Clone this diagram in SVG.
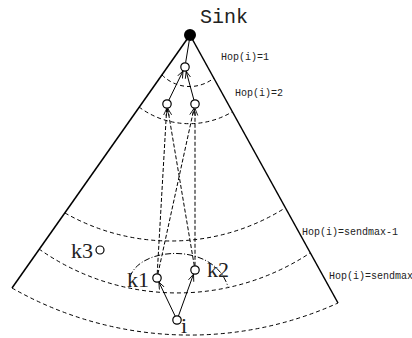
<svg xmlns="http://www.w3.org/2000/svg" width="412" height="338" viewBox="0 0 412 338">
<style>
.edge{stroke:#000;stroke-width:1.5;fill:none}
.arc{stroke:#000;stroke-width:1;fill:none;stroke-dasharray:4 3}
.dd{stroke:#000;stroke-width:1;fill:none;stroke-dasharray:6 2 1 2}
.sol{stroke:#000;stroke-width:1;fill:none;marker-end:url(#arr)}
.dsh{stroke:#000;stroke-width:1;fill:none;stroke-dasharray:4 2;marker-end:url(#arr)}
.node{fill:#fff;stroke:#000;stroke-width:1.2}
.hop{font-family:"Liberation Mono",monospace;font-size:10px;fill:#222}
.lbl{font-family:"Liberation Serif",serif;font-size:22px;fill:#222}
</style>
<defs>
<marker id="arr" viewBox="0 0 10 10" refX="10" refY="5" markerWidth="7" markerHeight="7" markerUnits="userSpaceOnUse" orient="auto">
<path d="M0,1 L10,5 L0,9" fill="none" stroke="#000" stroke-width="1.2"/>
</marker>
</defs>
<g id="region">
<line class="edge" x1="190" y1="35" x2="12" y2="288"/>
<line class="edge" x1="190" y1="35" x2="338" y2="303"/>
<path class="arc" d="M162,75 A39,39 0 0 0 214,78"/>
<path class="arc" d="M139,107 A84,84 0 0 0 232,112"/>
<path class="arc" d="M65,213 A214,214 0 0 0 285,208"/>
<path class="arc" d="M39,249 A240,240 0 0 0 310,253"/>
<path class="arc" d="M12,288 A359,359 0 0 0 338,303"/>
<path class="dd" d="M130,277 C140,246 215,242 228,287"/>
</g>
<g id="connectors">
<line stroke="#000" stroke-width="1" x1="185.6" y1="62.8" x2="189.2" y2="41"/>
<line class="sol" x1="168.8" y1="100.2" x2="183" y2="71"/>
<line class="sol" x1="193.9" y1="99.9" x2="186.2" y2="71.3"/>
<line class="dsh" x1="157.2" y1="273.8" x2="166.7" y2="108.5"/>
<line class="dsh" x1="157.9" y1="273.9" x2="194" y2="108.4"/>
<line class="dsh" x1="194.3" y1="265.8" x2="167.7" y2="108.4"/>
<line class="dsh" x1="195" y1="265.8" x2="195" y2="108.5"/>
<line class="sol" x1="175.2" y1="316.2" x2="158.9" y2="282.1"/>
<line class="sol" x1="178.4" y1="316.1" x2="193.5" y2="274.2"/>
</g>
<g id="sink">
<circle cx="190" cy="35" r="6" fill="#000"/>
<text x="200" y="23" font-family="'Liberation Mono',monospace" font-size="20" fill="#222">Sink</text>
</g>
<g id="n1"><circle class="node" cx="185" cy="67" r="4.2"/></g>
<g id="n2"><circle class="node" cx="167" cy="104" r="4.2"/></g>
<g id="n3"><circle class="node" cx="195" cy="104" r="4.2"/></g>
<g id="k1"><circle class="node" cx="157" cy="278" r="4.2"/><text class="lbl" x="127" y="287">k1</text></g>
<g id="k2"><circle class="node" cx="195" cy="270" r="4.2"/><text class="lbl" x="207" y="277">k2</text></g>
<g id="k3"><circle class="node" cx="100" cy="250" r="4"/><text class="lbl" x="71" y="258">k3</text></g>
<g id="i"><circle class="node" cx="177" cy="320" r="4.2"/><text class="lbl" x="181" y="333" font-size="20">i</text></g>
<g id="labels">
<text class="hop" x="221" y="60">Hop(i)=1</text>
<text class="hop" x="235" y="96">Hop(i)=2</text>
<text class="hop" x="302" y="235">Hop(i)=sendmax-1</text>
<text class="hop" x="329" y="279" font-size="9">Hop(i)=sendmax</text>
</g>
</svg>
